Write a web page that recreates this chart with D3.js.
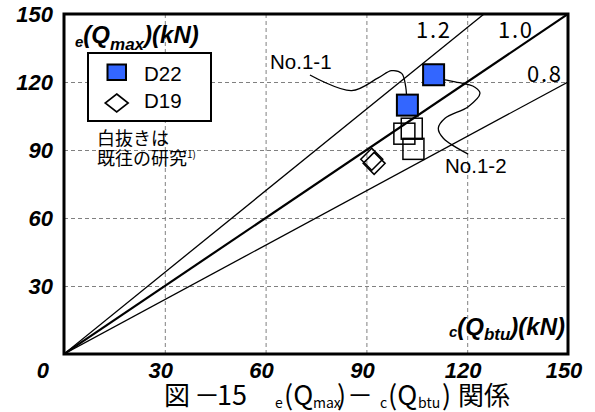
<!DOCTYPE html>
<html>
<head>
<meta charset="utf-8">
<script src="https://cdn.jsdelivr.net/npm/d3@7/dist/d3.min.js"></script>
<style>
  html, body { margin: 0; padding: 0; background: #fff; }
  svg { display: block; }
</style>
</head>
<body>
<script>
// Axis ticks (kN) shared by both axes
const tickValues = [30, 60, 90, 120, 150];
const tickLabels = ["30", "60", "90", "120", "150"];

// Reference ratio lines e(Qmax) = k * c(Qbtu)
const ratioSlopes = [1.2, 1.0, 0.8];
const ratioLabels = ["1.2", "1.0", "0.8"];

// D22 specimens (this study)
const d22Names = ["No.1-2", "No.1-1"];
const d22Calc = [110.0, 102.2];
const d22Exp  = [123.2, 109.8];

// Earlier study, D22 (open squares)
const prevCalc = [103.5, 101.3, 104.0];
const prevExp  = [99.4, 97.2, 90.5];

// Earlier study, D19 (open diamonds)
const d19Calc = [91.6, 92.3];
const d19Exp  = [85.9, 84.1];

// Leader curves from the specimen labels, in kN coordinates
const leader11Calc = [73.2, 85.6, 93.5, 97.5, 100.5, 101.7, 102.0];
const leader11Exp  = [123.1, 116.2, 121.8, 125.0, 123.8, 117.9, 109.9];
const leader12Calc = [110.4, 116.4, 122.3, 123.8, 120.3, 113.4, 111.4, 112.9, 120.3];
const leader12Exp  = [121.6, 120.1, 117.7, 115.0, 109.1, 104.0, 99.6, 95.2, 88.2];

const W = 595, H = 412;
const svg = d3.select("body").append("svg").attr("width", W).attr("height", H);

const x = d3.scaleLinear().domain([0, 150]).range([64, 568]);
const y = d3.scaleLinear().domain([0, 150]).range([354, 14]);

const latin = "'Liberation Sans', Arial, sans-serif";
const cjk = "'Noto Sans CJK JP', sans-serif";

// Clip for the plotting area
svg.append("clipPath").attr("id", "plot")
  .append("rect").attr("x", x(0)).attr("y", y(150))
  .attr("width", x(150) - x(0)).attr("height", y(0) - y(150));

// Dashed grid
const grid = svg.append("g").attr("stroke", "#808080").attr("stroke-width", 1)
  .attr("stroke-dasharray", "4,3");
grid.selectAll(".gx").data(tickValues.slice(0, -1)).join("line")
  .attr("x1", d => x(d) + 0.5).attr("x2", d => x(d) + 0.5)
  .attr("y1", y(0)).attr("y2", y(150));
grid.selectAll(".gy").data(tickValues.slice(0, -1)).join("line")
  .attr("y1", d => y(d) + 0.5).attr("y2", d => y(d) + 0.5)
  .attr("x1", x(0)).attr("x2", x(150));

// Ratio lines
const plot = svg.append("g").attr("clip-path", "url(#plot)");
plot.selectAll(".ratio").data(ratioSlopes).join("line")
  .attr("x1", x(0)).attr("y1", y(0))
  .attr("x2", d => x(Math.min(150, 150 / d)))
  .attr("y2", d => y(Math.min(150, 150 * d)))
  .attr("stroke", "#000")
  .attr("stroke-width", d => d === 1 ? 2.2 : 1.3);

// Ratio labels
const ratioPos = [[416, 38], [498, 38], [527, 82]];
svg.selectAll(".rlab").data(ratioLabels).join("text")
  .attr("x", (d, i) => ratioPos[i][0]).attr("y", (d, i) => ratioPos[i][1])
  .attr("font-family", cjk).attr("font-size", 22)
  .attr("textLength", 34).attr("lengthAdjust", "spacing")
  .text(d => d);

// Leader curves
const leaderLine = d3.line().x(d => x(d[0])).y(d => y(d[1])).curve(d3.curveCatmullRom.alpha(0.5));
const leaders = [
  d3.zip(leader11Calc, leader11Exp),
  d3.zip(leader12Calc, leader12Exp)
];
svg.selectAll(".leader").data(leaders).join("path")
  .attr("d", leaderLine).attr("fill", "none")
  .attr("stroke", "#000").attr("stroke-width", 1.3);

// Open squares (earlier study)
const sq = 21;
svg.selectAll(".prev").data(d3.zip(prevCalc, prevExp)).join("rect")
  .attr("x", d => x(d[0]) - sq / 2).attr("y", d => y(d[1]) - sq / 2)
  .attr("width", sq).attr("height", sq)
  .attr("fill", "none").attr("stroke", "#000").attr("stroke-width", 1.5);

// Open diamonds (D19)
const diamond = (cx, cy, hw, hh) => `M${cx},${cy - hh}L${cx + hw},${cy}L${cx},${cy + hh}L${cx - hw},${cy}Z`;
svg.selectAll(".d19").data(d3.zip(d19Calc, d19Exp)).join("path")
  .attr("d", d => diamond(x(d[0]), y(d[1]), 11, 11))
  .attr("fill", "none").attr("stroke", "#000").attr("stroke-width", 1.5);

// Filled squares (D22, this study)
svg.selectAll(".d22").data(d3.zip(d22Calc, d22Exp)).join("rect")
  .attr("x", d => x(d[0]) - sq / 2).attr("y", d => y(d[1]) - sq / 2)
  .attr("width", sq).attr("height", sq)
  .attr("fill", "#3366ff").attr("stroke", "#000").attr("stroke-width", 2);

// Specimen labels
svg.append("text").attr("x", 270).attr("y", 69)
  .attr("font-family", latin).attr("font-size", 20.5).text(d22Names[1]);
svg.append("text").attr("x", 445).attr("y", 173)
  .attr("font-family", latin).attr("font-size", 20.5).text(d22Names[0]);

// Frame
svg.append("rect").attr("x", x(0)).attr("y", y(150))
  .attr("width", x(150) - x(0)).attr("height", y(0) - y(150))
  .attr("fill", "none").attr("stroke", "#000").attr("stroke-width", 3);

// Tick labels
const tickFont = g => g.attr("font-family", latin).attr("font-size", 22)
  .attr("font-weight", "bold").attr("font-style", "italic");
svg.selectAll(".yt").data(tickValues).join("text")
  .call(tickFont)
  .attr("text-anchor", "end").attr("x", 53).attr("y", d => y(d) + 8)
  .text((d, i) => tickLabels[i]);
svg.selectAll(".xt").data(tickValues).join("text")
  .call(tickFont)
  .attr("text-anchor", "middle").attr("x", d => x(d) - 4).attr("y", 378)
  .text((d, i) => tickLabels[i]);
svg.append("text").call(tickFont)
  .attr("text-anchor", "end").attr("x", 49).attr("y", 378).text("0");

// Axis titles
const yTitle = svg.append("text").call(tickFont).attr("x", 75).attr("y", 43);
yTitle.append("tspan").attr("font-size", 15).attr("dy", 4).text("e");
yTitle.append("tspan").attr("font-size", 24).attr("dy", -4).text("(Q");
yTitle.append("tspan").attr("font-size", 17).attr("dy", 7).text("max");
yTitle.append("tspan").attr("font-size", 24).attr("dy", -7).text(")(kN)");

const xTitle = svg.append("text").call(tickFont).attr("text-anchor", "end")
  .attr("x", 565).attr("y", 335);
xTitle.append("tspan").attr("font-size", 15).attr("dy", 2).text("c");
xTitle.append("tspan").attr("font-size", 24).attr("dy", -2).text("(Q");
xTitle.append("tspan").attr("font-size", 17).attr("dy", 5).text("btu");
xTitle.append("tspan").attr("font-size", 24).attr("dy", -5).text(")(kN)");

// Legend
const lg = svg.append("g");
lg.append("rect").attr("x", 88).attr("y", 53).attr("width", 123).attr("height", 68)
  .attr("fill", "#fff").attr("stroke", "#000").attr("stroke-width", 2);
lg.append("rect").attr("x", 107.5).attr("y", 64.5).attr("width", 18.5).attr("height", 15.5)
  .attr("fill", "#3366ff").attr("stroke", "#000").attr("stroke-width", 2);
lg.append("path").attr("d", diamond(116.7, 103, 11.5, 9))
  .attr("fill", "none").attr("stroke", "#000").attr("stroke-width", 1.6);
lg.append("text").attr("x", 144).attr("y", 81).attr("font-family", latin).attr("font-size", 20.5).text("D22");
lg.append("text").attr("x", 144).attr("y", 108).attr("font-family", latin).attr("font-size", 20.5).text("D19");

// Note
svg.append("text").attr("x", 97).attr("y", 145).attr("font-family", cjk).attr("font-size", 18).text("白抜きは");
const note2 = svg.append("text").attr("x", 97).attr("y", 165).attr("font-family", cjk).attr("font-size", 18);
note2.append("tspan").text("既往の研究");
note2.append("tspan").attr("font-size", 10).attr("dy", -7).text("1)");

// Caption: one text element, each run placed along the line
const cap = [
  { t: "図", x: 164, k: "cjk" },
  { t: "－", x: 194, k: "cjk" },
  { t: "15", x: 217, k: "lat" },
  { t: "e", x: 275, k: "sub" },
  { t: "(Q", x: 284, k: "lat" },
  { t: "max", x: 313, k: "sub" },
  { t: ")", x: 337, k: "lat" },
  { t: "－", x: 347, k: "cjk" },
  { t: "c", x: 380, k: "sub" },
  { t: "(Q", x: 388, k: "lat" },
  { t: "btu", x: 418, k: "sub" },
  { t: ")", x: 442, k: "lat" },
  { t: "関係", x: 458, k: "cjk" }
];
const capText = svg.append("text").attr("font-family", cjk).attr("y", 405);
capText.selectAll("tspan").data(cap).join("tspan")
  .attr("x", d => d.x)
  .attr("y", d => d.k === "sub" ? 408 : 405)
  .attr("font-size", d => d.k === "cjk" ? 26 : d.k === "lat" ? 27 : 14)
  .text(d => d.t);
</script>
</body>
</html>
